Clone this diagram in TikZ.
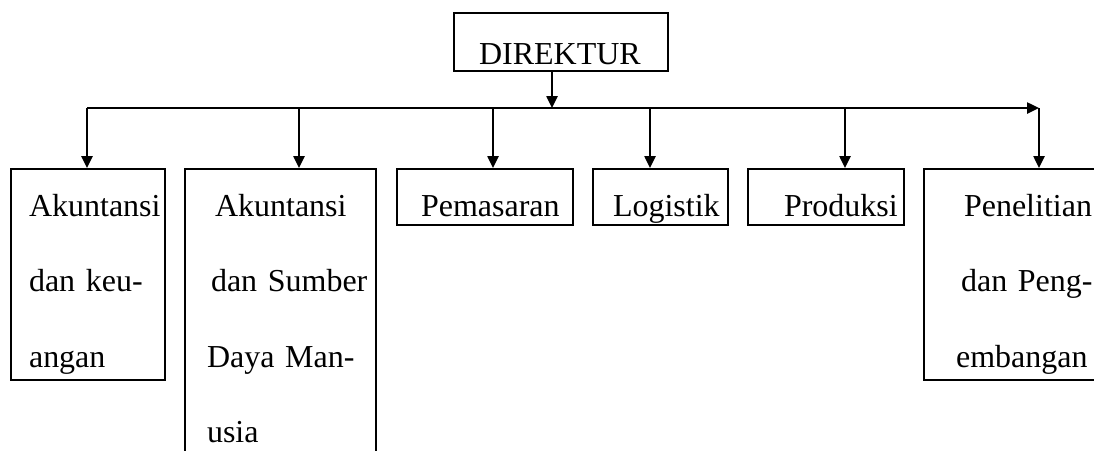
\documentclass[tikz,border=0pt]{standalone}
\usepackage{fontspec}
\setmainfont{Liberation Serif}
\usetikzlibrary{arrows.meta}
\newcommand{\unitfont}{\fontsize{9.1}{21.5}\selectfont}
\tikzset{
    unitbox/.style={rectangle, draw=black, line width=0.6pt, anchor=north west, align=left, inner xsep=0pt, inner ysep=0pt, text height=4.7mm, text depth=0.9mm, font=\unitfont},
    lpad/.style={execute at begin node={\leftskip=#1\rightskip=0pt plus 1fil\relax}},
    arrow/.style={-{Triangle[length=1.2mm, width=1.1mm]}, line width=0.7pt, draw=black}
}

\begin{document}
\begin{tikzpicture}[x=1mm, y=-1mm]
    \useasboundingbox (0,0) rectangle (109.4,45);
    \clip (0,0) rectangle (109.4,45);

    % pimpinan
    \node[unitbox, text width=21.4mm, lpad=2.5mm, text height=5.1mm, text depth=0.7mm] (dir) at (45.3,1.2) {DIREKTUR};

    % bagian
    \node[unitbox, text width=15.4mm, lpad=1.8mm, text depth=16.4mm] (akk) at (1.0,16.8) {Akuntansi\\dan keu-\\angan};
    \node[unitbox, text width=19.1mm, lpad=2.2mm, text depth=25.0mm] (asdm) at (18.4,16.8) {\hspace*{0.8mm}Akuntansi\\\hspace*{0.4mm}dan Sumber\\Daya Man-\\usia};
    \node[unitbox, text width=17.6mm, lpad=2.4mm] (pem) at (39.6,16.8) {Pemasaran};
    \node[unitbox, text width=13.5mm, lpad=2.0mm] (log) at (59.2,16.8) {Logistik};
    \node[unitbox, text width=15.6mm, lpad=3.6mm] (prod) at (74.7,16.8) {Produksi};
    \node[unitbox, text width=20.0mm, lpad=3.2mm, text depth=16.4mm] (pen) at (92.3,16.8) {\hspace*{0.8mm}Penelitian\\\hspace*{0.5mm}dan Peng-\\embangan};

    % garis komando
    \coordinate (top) at (55.2,10.8);
    \coordinate (b1) at (8.7,10.8);
    \coordinate (b2) at (29.9,10.8);
    \coordinate (b3) at (49.3,10.8);
    \coordinate (b4) at (65.0,10.8);
    \coordinate (b5) at (84.5,10.8);
    \coordinate (bend) at (103.9,10.8);

    \draw[arrow] (dir.south -| top) -- (top);
    \draw[arrow] (b1) -- (bend);
    \draw[arrow] (bend) -- (bend |- pen.north);
    \foreach \b/\u in {b1/akk, b2/asdm, b3/pem, b4/log, b5/prod}
        \draw[arrow] (\b) -- (\b |- \u.north);
\end{tikzpicture}
\end{document}
